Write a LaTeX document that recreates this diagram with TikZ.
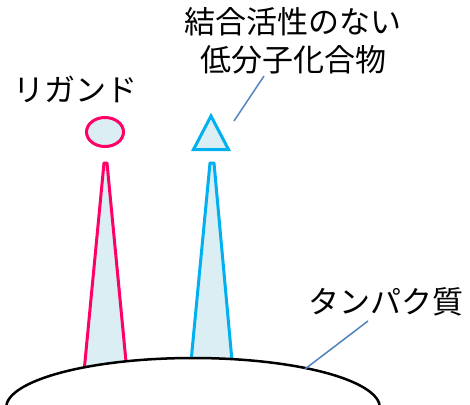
\documentclass[tikz,border=0pt]{standalone}
\usepackage{fontspec}
\newfontfamily\cjk{Noto Sans CJK JP}
\usetikzlibrary{shapes.geometric}
\definecolor{pinkc}{HTML}{FF0066}
\definecolor{cyanc}{HTML}{00B0F0}
\definecolor{paleblue}{HTML}{DAEEF3}
\definecolor{callc}{HTML}{4F81BD}
\tikzset{
  lbl/.style={font=\cjk\fontsize{31}{38}\selectfont, align=center, inner sep=0pt, text=black},
  spikepink/.style={draw=pinkc, fill=paleblue, line width=3pt, line join=round},
  spikecyan/.style={draw=cyanc, fill=paleblue, line width=3pt, line join=round},
  callout/.style={draw=callc, line width=1.5pt}
}
\begin{document}
\begin{tikzpicture}[x=1pt,y=-1pt]
\useasboundingbox (0,0) rectangle (470,404);
\clip (0,0) rectangle (470,404);
% spikes
\path[spikepink] (84,372) -- (104,163) -- (107,163) -- (127,372);
\path[spikecyan] (190,372) -- (210,163) -- (214,163) -- (233,372);
% protein body
\draw[fill=white, line width=2.5pt] (193,408) ellipse [x radius=187, y radius=50];
% ligand and compound
\draw[pinkc, fill=paleblue, line width=3pt] (105,132) ellipse [x radius=18.5, y radius=14.5];
\draw[cyanc, fill=paleblue, line width=3pt, line join=miter] (211,116) -- (228.5,149.5) -- (193.5,149.5) -- cycle;
% labels
\node[lbl] (lig) at (75,89) {リガンド};
\node[lbl] (cmp) at (293,41) {結合活性のない\\低分子化合物};
\node[lbl] (prot) at (386,302) {タンパク質};
% callouts
\coordinate (c1a) at (264,76);
\coordinate (c1b) at (234,121);
\coordinate (c2a) at (368,321);
\coordinate (c2b) at (305,369);
\draw[callout] (c1a) -- (c1b);
\draw[callout] (c2a) -- (c2b);
\end{tikzpicture}
\end{document}
